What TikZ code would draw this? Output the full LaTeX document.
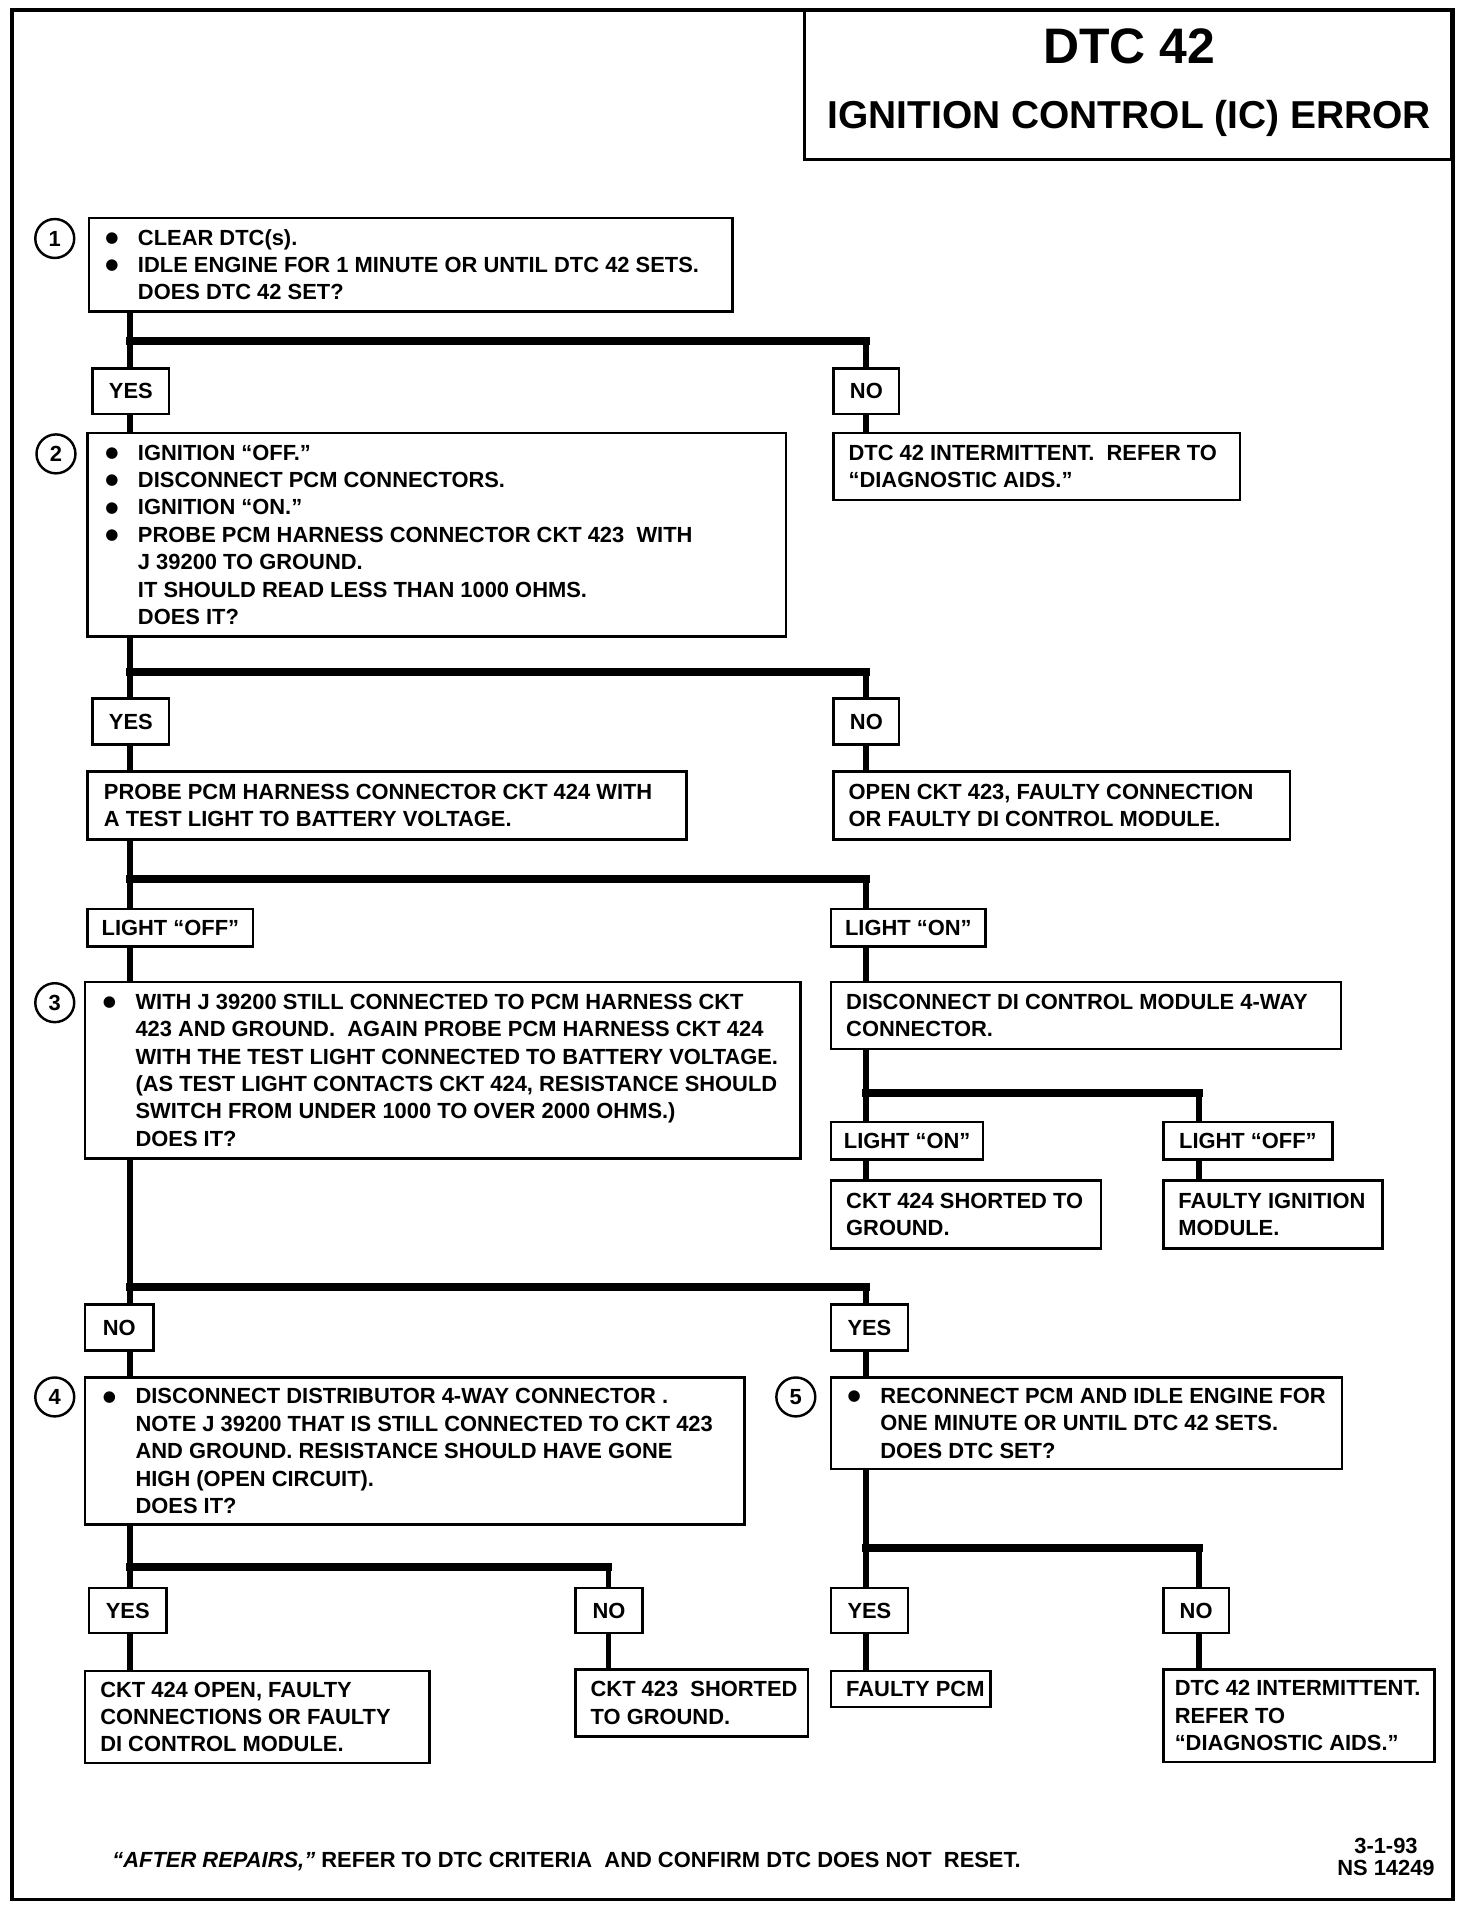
\documentclass[tikz,border=0pt]{standalone}
\usepackage{fontspec}
\setmainfont{Liberation Sans}
\newfontfamily\dejavu{DejaVu Sans}
\usetikzlibrary{backgrounds}
\newcommand\bodyfont{\fontsize{9}{11.25}\selectfont\bfseries}
\newcommand\bul{\llap{\raisebox{1.1pt}{\dejavu\fontsize{6.2}{6.2}\selectfont ●}\hspace{8pt}}}
\tikzset{
  box/.style={draw, line width=1pt, fill=white, inner sep=0pt, anchor=north west},
  txt/.style={inner sep=0pt, align=left, anchor=west, font=\bodyfont},
  lblbox/.style={box, font=\bodyfont},
  vline/.style={line width=2.4pt},
  hline/.style={line width=3.3pt, line cap=rect},
  num/.style={circle, draw, line width=1pt, minimum size=16pt, inner sep=0pt, font=\bodyfont}
}
% box with separate left-aligned text: name, x1, y1, x2, y2, text offset (px), text
\newcommand\bx[7]{%
  \pgfmathsetmacro\bw{(#4-#2)*0.5}%
  \pgfmathsetmacro\bh{(#5-#3)*0.5}%
  \node[box, minimum width=\bw pt, minimum height=\bh pt] (#1) at (#2,#3) {};%
  \node[txt] (#1t) at ([xshift=#6*0.5pt]#1.west) {#7};}
% label box with centred text
\newcommand\lb[6]{%
  \pgfmathsetmacro\bw{(#4-#2)*0.5}%
  \pgfmathsetmacro\bh{(#5-#3)*0.5}%
  \node[lblbox, minimum width=\bw pt, minimum height=\bh pt] (#1) at (#2,#3) {#6};}
\begin{document}
\begin{tikzpicture}[x=0.5pt, y=-0.5pt]
\useasboundingbox (0,0) rectangle (1208,1568);
\draw[line width=1.5pt] (10,8) rectangle (1194,1561);
\node[box, minimum width=266pt, minimum height=61pt] (title) at (660,8) {};
\node[font=\fontsize{20.5}{24}\selectfont\bfseries] (t1) at (928,38) {DTC 42};
\node[font=\fontsize{16}{19}\selectfont\bfseries] (t2) at (928,97) {IGNITION CONTROL (IC) ERROR};

% junction coordinates
\coordinate (xL) at (107,0);
\coordinate (xR) at (712,0);
\coordinate (xR2) at (985,0);
\coordinate (xM) at (500,0);
\coordinate (j1) at (0,280);
\coordinate (j2) at (0,552);
\coordinate (j3) at (0,722);
\coordinate (j4) at (0,898);
\coordinate (j5) at (0,1058);
\coordinate (j6) at (0,1288);
\coordinate (j7) at (0,1272);

% step 1
\node[num] (n1) at (45,196) {1};
\bx{b1}{72}{178}{601}{255}{41}{\bul CLEAR DTC(s).\\\bul IDLE ENGINE FOR 1 MINUTE OR UNTIL DTC 42 SETS.\\DOES DTC 42 SET?}
\lb{yes1}{75}{302}{138}{339}{YES}
\lb{no1}{684}{302}{738}{339}{NO}
\bx{r1}{684}{355}{1018}{410}{13}{DTC 42 INTERMITTENT.\ \ REFER TO\\“DIAGNOSTIC AIDS.”}

% step 2
\node[num] (n2) at (46,373) {2};
\bx{b2}{71}{355}{645}{522}{42}{\bul IGNITION “OFF.”\\\bul DISCONNECT PCM CONNECTORS.\\\bul IGNITION “ON.”\\\bul PROBE PCM HARNESS CONNECTOR CKT 423\ \ WITH\\J 39200 TO GROUND.\\IT SHOULD READ LESS THAN 1000 OHMS.\\DOES IT?}
\lb{yes2}{75}{573}{138}{611}{YES}
\lb{no2}{684}{573}{738}{611}{NO}
\bx{pr}{71}{633}{563}{689}{14}{PROBE PCM HARNESS CONNECTOR CKT 424 WITH\\A TEST LIGHT TO BATTERY VOLTAGE.}
\bx{r2}{684}{633}{1059}{689}{13}{OPEN CKT 423, FAULTY CONNECTION\\OR FAULTY DI CONTROL MODULE.}
\lb{loff}{71}{746}{207}{777}{LIGHT “OFF”}
\lb{lon}{682}{746}{809}{777}{LIGHT “ON”}

% step 3
\node[num] (n3) at (45,824) {3};
\bx{b3}{69}{806}{657}{951}{42}{\bul WITH J 39200 STILL CONNECTED TO PCM HARNESS CKT\\423 AND GROUND.\ \ AGAIN PROBE PCM HARNESS CKT 424\\WITH THE TEST LIGHT CONNECTED TO BATTERY VOLTAGE.\\(AS TEST LIGHT CONTACTS CKT 424, RESISTANCE SHOULD\\SWITCH FROM UNDER 1000 TO OVER 2000 OHMS.)\\DOES IT?}
\bx{dc}{682}{806}{1101}{861}{13}{DISCONNECT DI CONTROL MODULE 4-WAY\\CONNECTOR.}
\lb{lon2}{682}{921}{807}{952}{LIGHT “ON”}
\lb{loff2}{955}{921}{1094}{952}{LIGHT “OFF”}
\bx{r3}{682}{969}{904}{1025}{13}{CKT 424 SHORTED TO\\GROUND.}
\bx{r4}{955}{969}{1135}{1025}{13}{FAULTY IGNITION\\MODULE.}
\lb{no3}{69}{1071}{125}{1109}{NO}
\lb{yes3}{682}{1071}{745}{1109}{YES}

% step 4 and 5
\node[num] (n4) at (45,1148) {4};
\bx{b4}{69}{1131}{611}{1252}{42}{\bul DISCONNECT DISTRIBUTOR 4-WAY CONNECTOR .\\NOTE J 39200 THAT IS STILL CONNECTED TO CKT 423\\AND GROUND. RESISTANCE SHOULD HAVE GONE\\HIGH (OPEN CIRCUIT).\\DOES IT?}
\node[num] (n5) at (654,1148) {5};
\bx{b5}{682}{1131}{1102}{1206}{41}{\bul RECONNECT PCM AND IDLE ENGINE FOR\\ONE MINUTE OR UNTIL DTC 42 SETS.\\DOES DTC SET?}
\lb{yes4}{72}{1304}{136}{1341}{YES}
\lb{no4}{472}{1304}{527}{1341}{NO}
\lb{yes5}{682}{1304}{745}{1341}{YES}
\lb{no5}{955}{1304}{1009}{1341}{NO}
\bx{r5}{69}{1372}{352}{1448}{13}{CKT 424 OPEN, FAULTY\\CONNECTIONS OR FAULTY\\DI CONTROL MODULE.}
\bx{r6}{472}{1371}{663}{1426}{13}{CKT 423\ \ SHORTED\\TO GROUND.}
\bx{r7}{682}{1372}{813}{1402}{13}{FAULTY PCM}
\bx{r8}{955}{1371}{1178}{1447}{10}{DTC 42 INTERMITTENT.\\REFER TO\\“DIAGNOSTIC AIDS.”}

% footer
\node[txt] (foot) at (92,1530) {\textit{“AFTER REPAIRS,”} REFER TO DTC CRITERIA\ \ AND CONFIRM DTC DOES NOT\ \ RESET.};
\node[inner sep=0pt, align=center, font=\fontsize{9}{8.7}\selectfont\bfseries] (code) at (1139,1526) {3-1-93\\NS 14249};

% connectors
\begin{pgfonlayer}{background}
\draw[vline] (b1.south -| xL) -- (yes1.north -| xL);
\draw[vline] (yes1.south -| xL) -- (b2.north -| xL);
\draw[hline] (j1 -| xL) -- (j1 -| xR);
\draw[vline] (j1 -| xR) -- (no1.north -| xR);
\draw[vline] (no1.south -| xR) -- (r1.north -| xR);

\draw[vline] (b2.south -| xL) -- (yes2.north -| xL);
\draw[vline] (yes2.south -| xL) -- (pr.north -| xL);
\draw[hline] (j2 -| xL) -- (j2 -| xR);
\draw[vline] (j2 -| xR) -- (no2.north -| xR);
\draw[vline] (no2.south -| xR) -- (r2.north -| xR);

\draw[vline] (pr.south -| xL) -- (loff.north -| xL);
\draw[vline] (loff.south -| xL) -- (b3.north -| xL);
\draw[hline] (j3 -| xL) -- (j3 -| xR);
\draw[vline] (j3 -| xR) -- (lon.north -| xR);
\draw[vline] (lon.south -| xR) -- (dc.north -| xR);

\draw[vline] (dc.south -| xR) -- (lon2.north -| xR);
\draw[vline] (lon2.south -| xR) -- (r3.north -| xR);
\draw[hline] (j4 -| xR) -- (j4 -| xR2);
\draw[vline] (j4 -| xR2) -- (loff2.north -| xR2);
\draw[vline] (loff2.south -| xR2) -- (r4.north -| xR2);

\draw[vline] (b3.south -| xL) -- (no3.north -| xL);
\draw[vline] (no3.south -| xL) -- (b4.north -| xL);
\draw[hline] (j5 -| xL) -- (j5 -| xR);
\draw[vline] (j5 -| xR) -- (yes3.north -| xR);
\draw[vline] (yes3.south -| xR) -- (b5.north -| xR);

\draw[vline] (b4.south -| xL) -- (yes4.north -| xL);
\draw[vline] (yes4.south -| xL) -- (r5.north -| xL);
\draw[hline] (j6 -| xL) -- (j6 -| xM);
\draw[vline] (j6 -| xM) -- (no4.north -| xM);
\draw[vline] (no4.south -| xM) -- (r6.north -| xM);

\draw[vline] (b5.south -| xR) -- (yes5.north -| xR);
\draw[vline] (yes5.south -| xR) -- (r7.north -| xR);
\draw[hline] (j7 -| xR) -- (j7 -| xR2);
\draw[vline] (j7 -| xR2) -- (no5.north -| xR2);
\draw[vline] (no5.south -| xR2) -- (r8.north -| xR2);
\end{pgfonlayer}
\end{tikzpicture}
\end{document}
